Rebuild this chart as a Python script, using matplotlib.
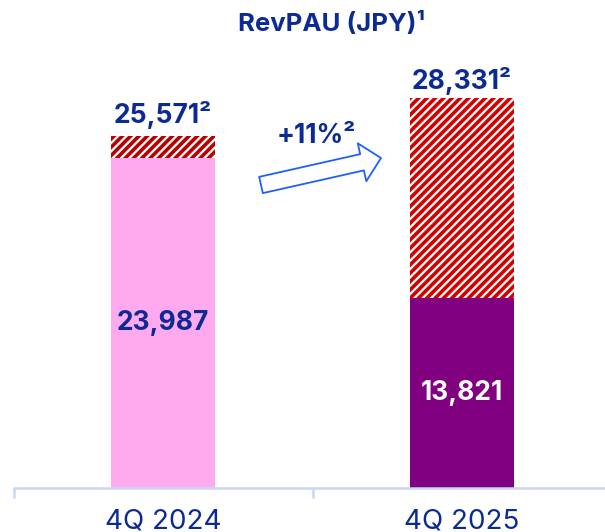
import matplotlib
matplotlib.use("Agg")
import matplotlib.pyplot as plt

plt.rcParams['font.family'] = ['Inter', 'DejaVu Sans']
plt.rcParams['hatch.linewidth'] = 2.6

# data
quarters = ['4Q 2024', '4Q 2025']
base_values = [23987, 13821]
total_values = [25571, 28331]
base_labels = ['23,987', '13,821']
total_labels = ['25,571²', '28,331²']
growth_label = '+11%²'
title = 'RevPAU (JPY)¹'

# styles
base_colors = ['#ffaaef', '#800080']
hatch_colors = ['#b80000', '#d40000']
base_text_colors = ['#0b2a94', 'white']
navy = '#0b2a94'
axis_color = '#c9d5fb'

W, H = 605, 532
fig = plt.figure(figsize=(W / 100, H / 100), dpi=100)
# axes: x from 13.5px to 611.5px, baseline at 488px from top
ax = fig.add_axes([13.5 / W, (H - 488) / H, 598 / W, 488 / H])

x = list(range(len(quarters)))
width = 0.348
ax.bar(x, base_values, width=width, color=base_colors, linewidth=0)
extra = [t - b for t, b in zip(total_values, base_values)]
for i in x:
    ax.bar(i, extra[i], bottom=base_values[i], width=width, color='white',
           edgecolor=hatch_colors[i], hatch='////', linewidth=0)

ax.set_xlim(-0.5, 1.5)
ax.set_ylim(0, 35473)

for s in ['top', 'right', 'left']:
    ax.spines[s].set_visible(False)
ax.spines['bottom'].set_color(axis_color)
ax.spines['bottom'].set_linewidth(1.8)
ax.set_yticks([])
ax.set_xticks([-0.5, 0.5, 1.5])
ax.set_xticklabels([])
ax.tick_params(axis='x', which='major', length=7.2, width=1.8, color=axis_color)
ax.set_xticks(x, minor=True)
ax.set_xticklabels(quarters, minor=True, fontsize=20, color=navy)
ax.tick_params(axis='x', which='minor', length=0, pad=15)

# labels inside bars
for i in x:
    ax.text(i, base_values[i] / 2, base_labels[i], ha='center', va='center',
            fontsize=19, fontweight='bold', color=base_text_colors[i])

# total labels above bars
offsets = [13, 9]
for i in x:
    ax.annotate(total_labels[i], xy=(i, total_values[i]), xytext=(0, offsets[i]),
                textcoords='offset pixels', ha='center', va='baseline',
                fontsize=19, fontweight='bold', color=navy, annotation_clip=False)

# growth arrow
ax.annotate('', xy=(381, H - 158), xycoords='figure pixels',
            xytext=(261, H - 185), textcoords='figure pixels',
            arrowprops=dict(arrowstyle='simple,head_length=14,head_width=28,tail_width=12',
                            mutation_scale=1, fc='white', ec='#1f5fff', lw=1.3,
                            shrinkA=0, shrinkB=0),
            annotation_clip=False)
fig.text(316 / W, (H - 143) / H, growth_label, ha='center', va='baseline',
         fontsize=19, fontweight='bold', color=navy)

fig.text(331 / W, (H - 31) / H, title, ha='center', va='baseline',
         fontsize=18.5, fontweight='bold', color=navy)

fig.savefig('out.png', dpi=100)
